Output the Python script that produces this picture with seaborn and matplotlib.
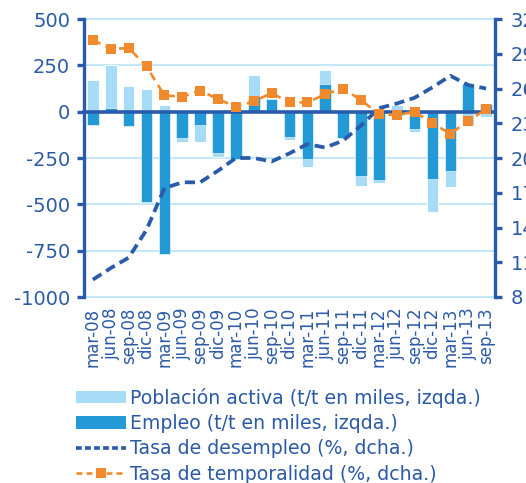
import numpy as np
import pandas as pd
import matplotlib
matplotlib.use("Agg")
import matplotlib.pyplot as plt
import seaborn as sns
from matplotlib.ticker import FixedLocator
from matplotlib.patches import Patch
from matplotlib.lines import Line2D

quarters = ['mar-08', 'jun-08', 'sep-08', 'dic-08', 'mar-09', 'jun-09', 'sep-09', 'dic-09',
            'mar-10', 'jun-10', 'sep-10', 'dic-10', 'mar-11', 'jun-11', 'sep-11', 'dic-11',
            'mar-12', 'jun-12', 'sep-12', 'dic-12', 'mar-13', 'jun-13', 'sep-13']
poblacion_activa = [172, 250, 140, 122, 35, -163, -163, -245, -215, 200, 45, -154, -299, 227,
                    -40, -402, -384, 35, -109, -540, -407, -72, -30]
empleo = [-72, 18, -78, -489, -766, -141, -72, -223, -253, 82, 69, -136, -257, 151,
          -140, -349, -371, -20, -92, -362, -322, 151, 42]
tasa_desempleo = [9.5, 10.5, 11.4, 13.8, 17.4, 17.9, 17.9, 18.9, 20.0, 20.0, 19.7, 20.4,
                  21.2, 20.9, 21.5, 22.8, 24.3, 24.7, 25.2, 26.1, 27.1, 26.3, 26.0]
tasa_temporalidad = [30.2, 29.4, 29.5, 27.9, 25.4, 25.3, 25.8, 25.1, 24.4, 24.9, 25.6, 24.8,
                     24.8, 25.5, 26.0, 25.0, 23.8, 23.7, 24.0, 23.0, 22.1, 23.2, 24.2]
left_ticks = [-1000, -750, -500, -250, 0, 250, 500]
right_ticks = [8, 11, 14, 17, 20, 23, 26, 29, 32]
legend_labels = ['Población activa (t/t en miles, izqda.)', 'Empleo (t/t en miles, izqda.)',
                 'Tasa de desempleo (%, dcha.)', 'Tasa de temporalidad (%, dcha.)']

LIGHT = '#a6dcf6'
DARK = '#2399d5'
NAVY = '#2a5bab'
ORANGE = '#f18a2c'
GRID = '#bde5f6'
TXT = '#2b5aa6'

sns.set_style("white")
plt.rcParams['font.family'] = ['DejaVu Sans']
plt.rcParams['axes.unicode_minus'] = False

df = pd.DataFrame({'q': quarters, 'activa': poblacion_activa, 'empleo': empleo,
                   'desempleo': tasa_desempleo, 'temporalidad': tasa_temporalidad})
df['pos'] = np.arange(len(df))

fig = plt.figure(figsize=(5.26, 4.83), dpi=100)
ax = fig.add_axes([84 / 526, 1 - 297 / 483, (495 - 84) / 526, (297 - 19) / 483])

sns.barplot(data=df, x='q', y='activa', color=LIGHT, saturation=1, width=0.65,
            edgecolor='white', linewidth=0.6, ax=ax, zorder=2)
sns.barplot(data=df, x='q', y='empleo', color=DARK, saturation=1, width=0.65,
            edgecolor='white', linewidth=0.4, ax=ax, zorder=3)

ax.set_xlim(-0.5, len(df) - 0.5)
ax.set_ylim(-1000, 500)
ax.set_yticks(left_ticks)
ax.set_yticklabels([str(v) for v in left_ticks])
ax.set_xlabel('')
ax.set_ylabel('')

for v in left_ticks:
    if v != 0:
        ax.axhline(v, color=GRID, lw=1.3, zorder=0, clip_on=False)

for s in ['top', 'right']:
    ax.spines[s].set_visible(False)
ax.spines['left'].set_color(NAVY)
ax.spines['left'].set_linewidth(2.4)
ax.spines['bottom'].set_position(('data', 0))
ax.spines['bottom'].set_color(NAVY)
ax.spines['bottom'].set_linewidth(2.6)
ax.spines['bottom'].set_zorder(5)

ax.xaxis.set_minor_locator(FixedLocator(np.arange(len(df) - 1) + 0.5))
ax.tick_params(axis='x', which='major', length=0, pad=141, labelsize=12,
               labelcolor=TXT, rotation=90)
ax.tick_params(axis='x', which='minor', length=6, width=2.4, color=NAVY, direction='out')
ax.tick_params(axis='y', length=5, width=2.4, color=NAVY, labelsize=14, labelcolor=TXT, pad=5)

ax2 = ax.twinx()
sns.lineplot(data=df, x='pos', y='desempleo', ax=ax2, color=NAVY, lw=2.7,
             linestyle=(0, (2.7, 1.5)), zorder=6)
sns.lineplot(data=df, x='pos', y='temporalidad', ax=ax2, color=ORANGE, lw=1.9,
             linestyle=(0, (3.2, 2.2)), marker='s', markersize=6.5,
             markeredgewidth=0, zorder=7)
ax2.set_ylim(8, 32)
ax2.set_yticks(right_ticks)
ax2.set_ylabel('')
ax2.set_xlabel('')
ax2.grid(False)
for s in ['top', 'left', 'bottom']:
    ax2.spines[s].set_visible(False)
ax2.spines['right'].set_color(NAVY)
ax2.spines['right'].set_linewidth(2.4)
ax2.tick_params(axis='y', length=5, width=2.4, color=NAVY, labelsize=14, labelcolor=TXT, pad=6.5)
ax2.set_xlim(-0.5, len(df) - 0.5)

handles = [Patch(facecolor=LIGHT, edgecolor='none'),
           Patch(facecolor=DARK, edgecolor='none'),
           Line2D([], [], color=NAVY, lw=2.6, linestyle=(0, (1.6, 0.9))),
           Line2D([], [], color=ORANGE, lw=1.9, linestyle=(0, (2.2, 1.6)), marker='s',
                  markersize=6.5, markeredgewidth=0, markevery=[1])]
leg = fig.legend(handles, legend_labels, loc='upper left', bbox_to_anchor=(76 / 526, 1 - 388 / 483),
                 frameon=False, fontsize=13.6, handlelength=2.65, handleheight=0.62,
                 handletextpad=0.2, labelspacing=0.33, borderpad=0, borderaxespad=0)
for t in leg.get_texts():
    t.set_color(TXT)

fig.savefig('out.png', dpi=100)
